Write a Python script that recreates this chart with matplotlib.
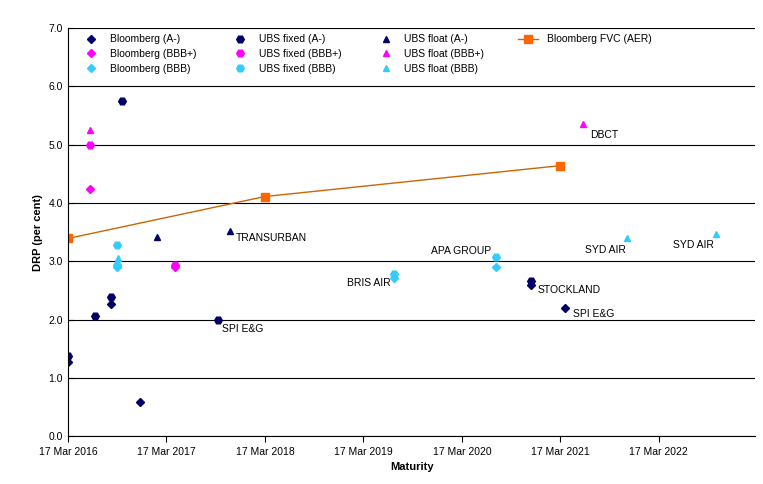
import matplotlib
matplotlib.use("Agg")
import matplotlib.pyplot as plt
from matplotlib.lines import Line2D

# x in years since 17 Mar 2016
tick_labels = ["17 Mar 2016","17 Mar 2017","17 Mar 2018","17 Mar 2019","17 Mar 2020","17 Mar 2021","17 Mar 2022"]

bb_a_x = [0.0, 0.44, 0.73, 4.70, 5.05]
bb_a_y = [1.27, 2.26, 0.58, 2.60, 2.19]
ubsfix_a_x = [0.0, 0.28, 0.44, 0.55, 1.52, 4.70]
ubsfix_a_y = [1.37, 2.06, 2.38, 5.75, 2.00, 2.66]
ubsfl_a_x = [0.90, 1.65]
ubsfl_a_y = [3.41, 3.52]
bb_bp_x = [0.22, 1.09]
bb_bp_y = [4.24, 2.90]
ubsfix_bp_x = [0.22, 1.09]
ubsfix_bp_y = [4.99, 2.94]
ubsfl_bp_x = [0.22, 5.23]
ubsfl_bp_y = [5.25, 5.35]
bb_b_x = [0.50, 3.31, 4.35]
bb_b_y = [2.90, 2.72, 2.90]
ubsfix_b_x = [0.50, 0.50, 3.31, 4.35]
ubsfix_b_y = [3.28, 2.93, 2.78, 3.08]
ubsfl_b_x = [0.51, 5.68, 6.58]
ubsfl_b_y = [3.05, 3.40, 3.47]
fvc_x = [0.0, 2.0, 5.0]
fvc_y = [3.39, 4.11, 4.64]

labels = [("TRANSURBAN",1.71,3.39),("SPI E&G",1.56,1.83),("BRIS AIR",2.83,2.62),
          ("APA GROUP",3.69,3.18),("STOCKLAND",4.77,2.50),("SPI E&G",5.13,2.09),
          ("DBCT",5.3,5.17),("SYD AIR",5.25,3.20),("SYD AIR",6.14,3.28)]

navy = "#000066"; mag = "#FF00FF"; cyan = "#33CCFF"; orange = "#FF6600"

fig = plt.figure(figsize=(7.63,4.84), dpi=100)
ax = fig.add_axes([0.089,0.099,0.901,0.843])
h = []
h += ax.plot(bb_a_x, bb_a_y, 'D', color=navy, ms=4, ls='none', label="Bloomberg (A-)")
h += ax.plot(bb_bp_x, bb_bp_y, 'D', color=mag, ms=4, ls='none', label="Bloomberg (BBB+)")
h += ax.plot(bb_b_x, bb_b_y, 'D', color=cyan, ms=4, ls='none', label="Bloomberg (BBB)")
h += ax.plot(ubsfix_a_x, ubsfix_a_y, 'H', color=navy, ms=5.5, ls='none', label="UBS fixed (A-)")
h += ax.plot(ubsfix_bp_x, ubsfix_bp_y, 'H', color=mag, ms=5.5, ls='none', label="UBS fixed (BBB+)")
h += ax.plot(ubsfix_b_x, ubsfix_b_y, 'H', color=cyan, ms=5.5, ls='none', label="UBS fixed (BBB)")
h += ax.plot(ubsfl_a_x, ubsfl_a_y, '^', color=navy, ms=5, ls='none', label="UBS float (A-)")
h += ax.plot(ubsfl_bp_x, ubsfl_bp_y, '^', color=mag, ms=5, ls='none', label="UBS float (BBB+)")
h += ax.plot(ubsfl_b_x, ubsfl_b_y, '^', color=cyan, ms=5, ls='none', label="UBS float (BBB)")
h += ax.plot(fvc_x, fvc_y, 's-', color="#CC6600", mfc=orange, mec=orange, ms=6, lw=1, label="Bloomberg FVC (AER)")
blank = Line2D([], [], ls='none', marker=None)
handles = h + [blank, blank]
labs = [x.get_label() for x in h] + ["", ""]

for t,x,y in labels:
    ax.text(x,y,t,fontsize=7.5,family="Liberation Sans",va='center')

ax.set_xlim(0,6.98)
ax.set_ylim(0,7)
ax.set_xticks(range(7))
ax.set_xticklabels(tick_labels, fontsize=7.5, family="Liberation Sans")
ax.set_yticks([i for i in range(8)])
ax.set_yticklabels([f"{i:.1f}" for i in range(8)], fontsize=7.5, family="Liberation Sans")
ax.yaxis.grid(True, color='black', lw=0.8)
ax.set_axisbelow(True)
for s in ['top','right']:
    ax.spines[s].set_visible(False)
ax.tick_params(direction='in', length=4)
ax.tick_params(axis='x', direction='out', length=4)
ax.set_xlabel("Maturity", fontsize=8, fontweight='bold', family="Liberation Sans")
ax.set_ylabel("DRP (per cent)", fontsize=8, fontweight='bold', family="Liberation Sans")
leg = ax.legend(handles, labs, ncol=4, loc='upper left', bbox_to_anchor=(0.01,1.0), frameon=True,
          prop={'family':'Liberation Sans','size':7.5}, handlelength=2.0,
          columnspacing=3.2, labelspacing=0.45, borderaxespad=0.2, edgecolor='none')
leg.get_frame().set_facecolor('white')
leg.get_frame().set_alpha(1)
fig.savefig("out.png", dpi=100)
